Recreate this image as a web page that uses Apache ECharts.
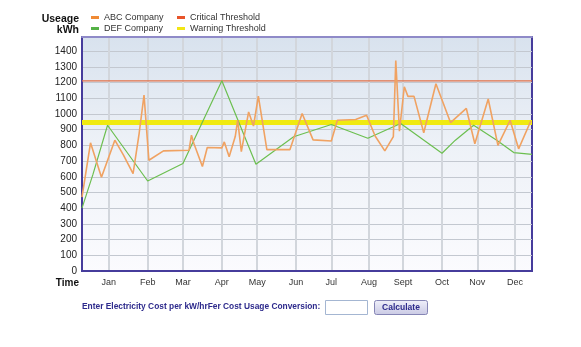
<!DOCTYPE html>
<html>
<head>
<meta charset="utf-8">
<script src="https://cdn.jsdelivr.net/npm/echarts@6/dist/echarts.min.js"></script>
<style>
html,body{margin:0;padding:0;background:#fff;}
#chart{width:581px;height:347px;}
</style>
</head>
<body>
<div id="chart"></div>
<script>
// ---- data ----
var monthNames = ['Jan','Feb','Mar','Apr','May','Jun','Jul','Aug','Sept','Oct','Nov','Dec'];
var monthTickDays = [22,54,83,115,144,176,205,236,264,296,325,356];
var dayCount = 371;

var abcDays  = [0,7,16,27,34,42,47,51,55,67,88,90,92,99,103,115,117,121,126,128,131,137,141,145,152,171,181,190,205,210,225,234,241,249,256,258,261,265,268,273,281,291,303,316,323,334,342,352,359,369];
var abcUsage = [470,816,597,833,740,620,877,1120,705,765,769,865,812,665,786,784,822,728,856,960,760,1013,923,1114,773,773,1003,835,828,960,965,992,860,765,856,1340,890,1173,1112,1112,880,1192,945,1035,810,1095,800,960,778,955];

var defDays  = [0,9,21,54,83,115,143,174,205,235,262,296,307,322,341,355,370];
var defUsage = [400,615,928,573,685,1211,680,855,933,845,939,750,833,928,833,754,743];

var criticalThreshold = 1210;
var warningThreshold = 945;

var yTicks = {min: 0, max: 1490, interval: 100};

// ---- build ----
var categories = [];
for (var i = 0; i < dayCount; i++) categories.push(String(i));
function pairs(xs, ys){ return xs.map(function(x, k){ return [x, ys[k]]; }); }
function isMonthTick(idx){ return monthTickDays.indexOf(idx) >= 0; }

var chart = echarts.init(document.getElementById('chart'), null, {renderer: 'canvas'});
var FONT = '"Liberation Sans", Arial, sans-serif';

var option = {
  animation: false,
  backgroundColor: '#ffffff',
  textStyle: {fontFamily: FONT},
  grid: {
    left: 82, top: 37, width: 450, height: 234,
    show: true,
    borderColor: '#463c9c', borderWidth: 2,
    backgroundColor: new echarts.graphic.LinearGradient(0, 0, 0, 1, [
      {offset: 0, color: '#d8e2ee'},
      {offset: 0.45, color: '#edf1f7'},
      {offset: 1, color: '#fbfbfe'}
    ])
  },
  legend: [
    {
      orient: 'vertical', left: 91, top: 12, padding: 0, itemGap: 0,
      itemWidth: 8, itemHeight: 3, icon: 'rect',
      textStyle: {fontSize: 9, color: '#333', fontFamily: FONT, lineHeight: 11},
      data: ['ABC Company', 'DEF Company']
    },
    {
      orient: 'vertical', left: 177, top: 12, padding: 0, itemGap: 0,
      itemWidth: 8, itemHeight: 3, icon: 'rect',
      textStyle: {fontSize: 9, color: '#333', fontFamily: FONT, lineHeight: 11},
      data: ['Critical Threshold', 'Warning Threshold']
    }
  ],
  xAxis: [
    {
      type: 'category', data: categories, boundaryGap: false,
      name: 'Time', nameLocation: 'start', nameGap: 3,
      nameTextStyle: {fontSize: 10, fontWeight: 'bold', color: '#111', verticalAlign: 'top', padding: [7, 0, 0, 0], fontFamily: FONT},
      axisLine: {lineStyle: {color: '#463c9c', width: 2}},
      axisTick: {show: false},
      axisLabel: {
        interval: function(idx){ return isMonthTick(idx); },
        formatter: function(v, idx){ var k = monthTickDays.indexOf(Number(v)); return k >= 0 ? monthNames[k] : ''; },
        fontSize: 9, color: '#333', margin: 7, fontFamily: FONT
      },
      splitLine: {
        show: true,
        interval: function(idx){ return isMonthTick(idx); },
        lineStyle: {color: '#d2d6dc', width: 2}
      }
    },
    {
      type: 'category', data: categories, boundaryGap: false, position: 'top',
      axisLine: {lineStyle: {color: '#8f8ac8', width: 2}},
      axisTick: {show: false}, axisLabel: {show: false}, splitLine: {show: false}
    }
  ],
  yAxis: {
    type: 'value', min: yTicks.min, max: yTicks.max, interval: yTicks.interval,
    name: 'Useage\nkWh', nameLocation: 'end', nameGap: 2,
    nameTextStyle: {fontSize: 10.5, fontWeight: 'bold', color: '#111', align: 'right', verticalAlign: 'bottom', lineHeight: 10.5, padding: [0, 3, 0, 0], fontFamily: FONT},
    axisLine: {show: true, lineStyle: {color: '#463c9c', width: 2}},
    axisTick: {show: false},
    axisLabel: {fontSize: 10, color: '#222', margin: 5, showMaxLabel: false, fontFamily: FONT,
      formatter: function(v){ return String(v); }},
    splitLine: {show: true, lineStyle: {color: '#c3c8d0', width: 1}}
  },
  series: [
    {
      name: 'Warning Threshold', type: 'line', symbol: 'none',
      data: [[0, warningThreshold], [dayCount - 1, warningThreshold]],
      itemStyle: {color: '#f2e614'},
      lineStyle: {color: '#f0ea10', width: 5}, z: 1
    },
    {
      name: 'Critical Threshold', type: 'line', symbol: 'none',
      data: [[0, criticalThreshold], [dayCount - 1, criticalThreshold]],
      itemStyle: {color: '#e8542a'},
      lineStyle: {color: '#e27048', width: 1.2}, z: 2
    },
    {
      name: 'DEF Company', type: 'line', symbol: 'none',
      data: pairs(defDays, defUsage),
      itemStyle: {color: '#55b246'},
      lineStyle: {color: '#6cbf50', width: 1.2}, z: 3
    },
    {
      name: 'ABC Company', type: 'line', symbol: 'none',
      data: pairs(abcDays, abcUsage),
      itemStyle: {color: '#f08a34'},
      lineStyle: {color: '#f0a262', width: 1.6}, z: 4
    }
  ],
  graphic: [
    {
      type: 'text', left: 82, top: 303,
      style: {text: 'Enter Electricity Cost per kW/hrFer Cost Usage Conversion:', font: 'bold 8.4px ' + FONT, fill: '#2d2a8c'}
    },
    {
      type: 'rect', left: 325, top: 300,
      shape: {width: 42, height: 14},
      style: {fill: '#ffffff', stroke: '#a4b6d2', lineWidth: 1}
    },
    {
      type: 'group', left: 374, top: 300,
      children: [
        {
          type: 'rect', shape: {width: 53, height: 14, r: 2},
          style: {
            fill: new echarts.graphic.LinearGradient(0, 0, 0, 1, [
              {offset: 0, color: '#f0f0fa'}, {offset: 1, color: '#c9c9e4'}
            ]),
            stroke: '#8585b5', lineWidth: 1
          }
        },
        {
          type: 'text', x: 26.5, y: 7,
          style: {text: 'Calculate', font: 'bold 8.5px ' + FONT, fill: '#2d2a8c', align: 'center', verticalAlign: 'middle'}
        }
      ]
    }
  ]
};
chart.setOption(option);
</script>
</body>
</html>
